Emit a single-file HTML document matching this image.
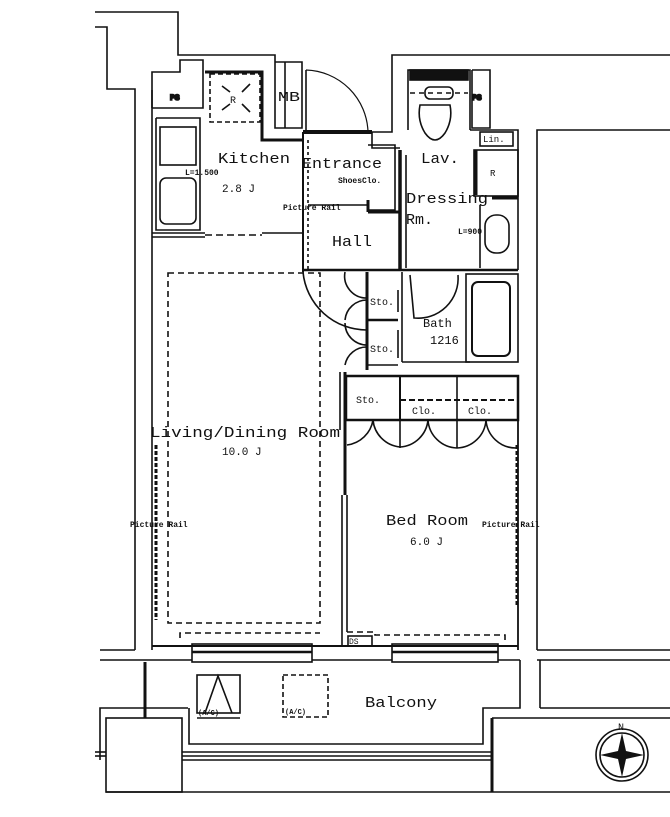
<!DOCTYPE html>
<html><head><meta charset="utf-8"><style>
html,body{margin:0;padding:0;background:#fff;}
svg{display:block;}
text{font-family:"Liberation Mono",monospace;fill:#111;}
</style></head><body>
<svg width="670" height="817" viewBox="0 0 670 817" xmlns="http://www.w3.org/2000/svg">
<g fill="none" stroke="#111" stroke-width="1.6">
<!-- outer top-left building outline -->
<polyline points="95,12 178,12 178,55 275,55 275,62"/>
<polyline points="95,27 107,27 107,89 135,89 135,650"/>
<!-- right top outline -->
<polyline points="372,132 392,132 392,55 670,55"/>
<polyline points="537,650 537,130 670,130"/>
<!-- left inner wall -->
<polyline points="152,650 152,118 152,90"/>
<!-- PS left -->
<polyline points="152,108 152,72 180,72 180,60 203,60 203,108 152,108"/>
<text x="170" y="100" font-size="8" font-weight="bold">PS</text>
<!-- kitchen -->
<polyline points="156,118 200,118 200,230 156,230 156,118" />
<rect x="160" y="127" width="36" height="38"/>
<rect x="160" y="178" width="36" height="46" rx="6"/>
<line x1="152" y1="233" x2="205" y2="233"/>
<line x1="262" y1="233" x2="303" y2="233"/>
<line x1="152" y1="237" x2="205" y2="237"/>
<line x1="205" y1="235" x2="262" y2="235" stroke-dasharray="7,4"/>
<rect x="210" y="74" width="50" height="48" stroke-dasharray="5,3"/>
<line x1="222" y1="86" x2="230" y2="92"/><line x1="250" y1="84" x2="242" y2="92"/>
<line x1="222" y1="110" x2="230" y2="104"/><line x1="250" y1="112" x2="242" y2="104"/>
<polyline points="205,72 262,72 262,140 303,140" stroke-width="3"/>
<!-- MB -->
<polyline points="275,62 302,62 302,128 275,128 275,62"/>
<polyline points="285,62 285,128"/>
<!-- entrance door arc -->
<path d="M306,70 A64,64 0 0 1 368,132" stroke-width="1.2"/>
<line x1="306" y1="70" x2="306" y2="132"/>
<!-- entrance/hall -->
<line x1="303" y1="132" x2="372" y2="132" stroke-width="4"/>
<line x1="303" y1="132" x2="303" y2="272" stroke-width="2"/>
<line x1="308" y1="140" x2="308" y2="272" stroke-dasharray="3,3"/>
<polyline points="372,132 372,148 392,148 400,148"/>
<line x1="400" y1="150" x2="400" y2="270" stroke-width="3.5"/>
<line x1="406" y1="155" x2="406" y2="268"/>
<polyline points="368,145 395,145 395,210 368,210"/>
<line x1="368" y1="200" x2="368" y2="212" stroke-width="3"/>
<line x1="368" y1="212" x2="400" y2="212" stroke-width="3"/>
<line x1="308" y1="205" x2="368" y2="205"/>
<line x1="303" y1="270" x2="518" y2="270" stroke-width="2.5"/>
<!-- lav / toilet area -->
<polyline points="408,130 408,70 470,70 470,130"/>
<rect x="410" y="70" width="58" height="10" fill="#111"/>
<line x1="410" y1="93" x2="468" y2="93" stroke-dasharray="5,4"/>
<rect x="425" y="87" width="28" height="12" rx="5"/>
<path d="M420,105 q-3,15 5,28 q10,14 20,0 q8,-13 5,-28 z"/>
<polyline points="472,70 490,70 490,128 472,128 472,70"/>
<text x="472" y="100" font-size="8" font-weight="bold">PS</text>
<polyline points="470,130 518,130 518,270"/>
<rect x="480" y="132" width="33" height="14"/>
<rect x="474" y="150" width="44" height="46"/>
<line x1="476" y1="150" x2="476" y2="195" stroke-width="3"/>
<line x1="492" y1="198" x2="518" y2="198" stroke-width="3"/>
<line x1="480" y1="205" x2="480" y2="268"/>
<rect x="485" y="215" width="24" height="38" rx="11"/>
<!-- bath -->
<line x1="402" y1="272" x2="402" y2="362"/>
<line x1="402" y1="362" x2="470" y2="362"/>
<rect x="466" y="274" width="52" height="88"/>
<rect x="472" y="282" width="38" height="74" rx="6" stroke-width="2"/>
<path d="M410,275 L414,318 A40,40 0 0 0 458,275"/>
<!-- sto near hall -->
<line x1="367" y1="272" x2="367" y2="370" stroke-width="3"/>
<line x1="367" y1="320" x2="398" y2="320" stroke-width="2.5"/>
<line x1="367" y1="365" x2="398" y2="365"/>
<line x1="398" y1="290" x2="398" y2="312"/>
<line x1="398" y1="330" x2="398" y2="358"/>
<path d="M345,272 A22,22 0 0 0 367,298"/>
<path d="M367,300 A22,22 0 0 0 345,320"/>
<path d="M345,323 A22,22 0 0 0 367,345"/>
<path d="M367,347 A22,22 0 0 0 345,365"/>
<path d="M303,272 A64,64 0 0 0 367,330"/>
<!-- LDR -->
<rect x="168" y="273" width="152" height="350" stroke-dasharray="6,4"/>
<line x1="156" y1="445" x2="156" y2="620" stroke-width="3" stroke-dasharray="4,2"/>
<polyline points="180,638 180,633 320,633" stroke-dasharray="6,4"/>
<line x1="340" y1="372" x2="340" y2="430"/>
<!-- bedroom -->
<polyline points="345,372 345,420" stroke-width="3"/>
<rect x="346" y="376" width="172" height="44" stroke-width="2.5"/>
<line x1="400" y1="376" x2="400" y2="420" stroke-width="2"/>
<line x1="457" y1="376" x2="457" y2="420"/>
<line x1="400" y1="400" x2="518" y2="400" stroke-width="2" stroke-dasharray="6,3"/>
<path d="M347,445 A30,30 0 0 0 373,420 A30,30 0 0 0 400,447 A30,30 0 0 0 428,420 A30,30 0 0 0 457,448 A30,30 0 0 0 486,420 A30,30 0 0 0 516,448"/>
<line x1="400" y1="420" x2="400" y2="448"/>
<line x1="457" y1="420" x2="457" y2="448"/>
<line x1="345" y1="420" x2="345" y2="495" stroke-width="3"/>
<line x1="342" y1="495" x2="342" y2="645"/>
<line x1="347" y1="495" x2="347" y2="632"/>
<line x1="518" y1="420" x2="518" y2="650" stroke-width="1.8"/>
<line x1="517" y1="445" x2="517" y2="605" stroke-width="3" stroke-dasharray="4,2"/>
<polyline points="347,632 375,632 375,635 505,635 505,642" stroke-dasharray="6,4"/>
<rect x="348" y="636" width="24" height="10"/>
<!-- bottom wall + windows -->
<line x1="152" y1="646" x2="518" y2="646" stroke-width="2"/>
<line x1="100" y1="650" x2="135" y2="650"/>
<line x1="537" y1="650" x2="670" y2="650"/>
<line x1="100" y1="660" x2="192" y2="660"/>
<line x1="312" y1="660" x2="392" y2="660"/>
<line x1="498" y1="660" x2="520" y2="660"/>
<line x1="537" y1="660" x2="670" y2="660"/>
<rect x="192" y="644" width="120" height="18"/>
<line x1="192" y1="652" x2="312" y2="652" stroke-width="2.5"/>
<rect x="392" y="644" width="106" height="18"/>
<line x1="392" y1="652" x2="498" y2="652" stroke-width="2.5"/>
<!-- balcony -->
<polyline points="520,660 520,708 483,708 483,744 189,744 189,708"/>
<line x1="145" y1="662" x2="145" y2="718" stroke-width="3"/>
<polyline points="100,760 100,708 188,708"/>
<rect x="106" y="718" width="76" height="74"/>
<line x1="182" y1="752" x2="492" y2="752"/>
<line x1="182" y1="756" x2="492" y2="756"/>
<line x1="182" y1="760" x2="492" y2="760"/>
<line x1="95" y1="752" x2="106" y2="752"/><line x1="95" y1="756" x2="106" y2="756"/>
<line x1="492" y1="718" x2="492" y2="792" stroke-width="3"/>
<line x1="492" y1="718" x2="670" y2="718"/>
<line x1="106" y1="792" x2="670" y2="792"/>
<line x1="540" y1="660" x2="540" y2="708"/>
<line x1="540" y1="708" x2="670" y2="708"/>
<rect x="197" y="675" width="43" height="38"/>
<polyline points="205,713 218,676 232,713"/>
<line x1="197" y1="718" x2="240" y2="718"/>
<rect x="283" y="675" width="45" height="42" stroke-dasharray="5,3"/>
<!-- compass -->
<circle cx="622" cy="755" r="26"/>
<circle cx="622" cy="755" r="22"/>
</g>
<path d="M622,733 L626,751 L644,755 L626,759 L622,777 L618,759 L600,755 L618,751 Z" fill="#111"/>
<text x="618" y="730" font-size="10">N</text>
<!-- labels -->
<text x="218" y="163" font-size="15" textLength="72" lengthAdjust="spacingAndGlyphs">Kitchen</text>
<text x="185" y="175" font-size="8" font-weight="bold">L=1.500</text>
<text x="222" y="192" font-size="11">2.8 J</text>
<text x="230" y="103" font-size="10">R</text>
<text x="278" y="101" font-size="14" textLength="22" lengthAdjust="spacingAndGlyphs">MB</text>
<text x="302" y="168" font-size="15" textLength="80" lengthAdjust="spacingAndGlyphs">Entrance</text>
<text x="338" y="183" font-size="8" font-weight="bold">ShoesClo.</text>
<text x="283" y="210" font-size="8" font-weight="bold">Picture Rail</text>
<text x="332" y="246" font-size="15" textLength="40" lengthAdjust="spacingAndGlyphs">Hall</text>
<text x="421" y="163" font-size="15" textLength="38" lengthAdjust="spacingAndGlyphs">Lav.</text>
<text x="483" y="142" font-size="9">Lin.</text>
<text x="490" y="176" font-size="9">R</text>
<text x="406" y="203" font-size="15" textLength="82" lengthAdjust="spacingAndGlyphs">Dressing</text>
<text x="406" y="224" font-size="15">Rm.</text>
<text x="458" y="234" font-size="8" font-weight="bold">L=900</text>
<text x="370" y="305" font-size="10">Sto.</text>
<text x="370" y="352" font-size="10">Sto.</text>
<text x="423" y="327" font-size="12">Bath</text>
<text x="430" y="344" font-size="12">1216</text>
<text x="356" y="403" font-size="10">Sto.</text>
<text x="412" y="414" font-size="10">Clo.</text>
<text x="468" y="414" font-size="10">Clo.</text>
<text x="150" y="437" font-size="15" textLength="190" lengthAdjust="spacingAndGlyphs">Living/Dining Room</text>
<text x="222" y="455" font-size="11">10.0 J</text>
<text x="130" y="527" font-size="8" font-weight="bold">Picture Rail</text>
<text x="386" y="525" font-size="15" textLength="82" lengthAdjust="spacingAndGlyphs">Bed Room</text>
<text x="410" y="545" font-size="11">6.0 J</text>
<text x="482" y="527" font-size="8" font-weight="bold">Picture Rail</text>
<text x="349" y="644" font-size="8">DS</text>
<text x="365" y="707" font-size="15" textLength="72" lengthAdjust="spacingAndGlyphs">Balcony</text>
<text x="198" y="715" font-size="7" font-weight="bold">(A/C)</text>
<text x="285" y="714" font-size="7" font-weight="bold">(A/C)</text>
</svg>
</body></html>
